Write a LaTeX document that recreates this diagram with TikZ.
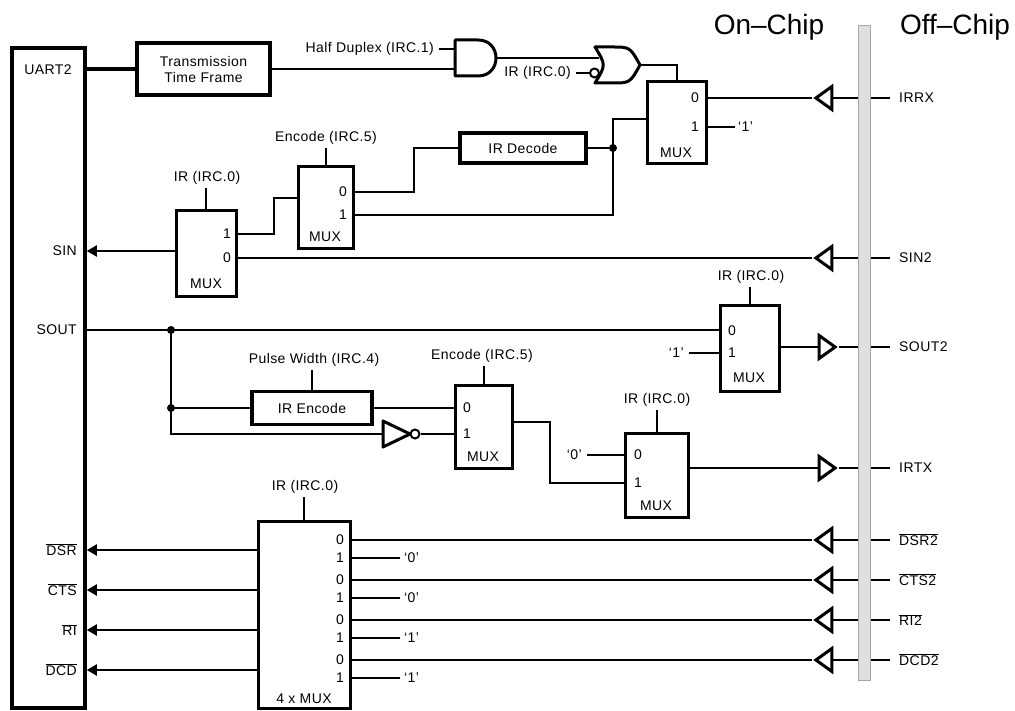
\documentclass[tikz,border=0pt]{standalone}
\usepackage{fontspec}
\setmainfont{Liberation Sans}[LetterSpace=3]
\newfontfamily\chipfont{Liberation Sans}
\usetikzlibrary{arrows.meta,shapes.geometric}

\begin{document}
\begin{tikzpicture}[x=1pt,y=-1pt,
  font=\fontsize{14}{16}\selectfont,
  wire/.style={line width=2pt},
  blk/.style={draw, rectangle, line width=3pt, inner sep=0pt},
  lbl/.style={inner sep=3pt},
  pinl/.style={anchor=west, inner sep=1pt},
  pinr/.style={anchor=east, inner sep=1pt},
  arr/.style={wire, -{Triangle[length=10pt,width=11pt]}},
  dot/.style={circle, fill, inner sep=0pt, minimum size=8pt},
  inv/.style={circle, draw, line width=2pt, inner sep=0pt, minimum size=9pt},
  gate/.style={line width=3pt, line join=round},
  buf/.style={draw, line width=3pt, isosceles triangle, isosceles triangle stretches,
    inner sep=0pt, minimum width=23pt, minimum height=16pt},
  padlbl/.style={anchor=west, inner sep=0pt, inner xsep=9pt}]
\useasboundingbox (0,0) rectangle (1015,711);

% Define the nodes
\node[blk, line width=3.5pt, minimum width=73pt, minimum height=660pt] at (48.5,378) (uart) {};
\node[lbl] at (48,70) (uartlabel) {UART2};
\node[lbl, anchor=east] at (80,251) (sin) {SIN};
\node[lbl, anchor=east] at (80,330) (sout) {SOUT};
\node[blk, line width=3.5pt, minimum width=133pt, minimum height=52pt, align=center] at (203.5,69) (ttf) {Transmission\\Time Frame};
\node[font=\chipfont\fontsize{28}{30}\selectfont, anchor=base] at (769,35) (onchip) {On\textendash Chip};
\node[font=\chipfont\fontsize{28}{30}\selectfont, anchor=base] at (955,35) (offchip) {Off\textendash Chip};

% gates
\draw[gate] (455,40) -- (478,40) .. controls (502,40) and (502,76) .. (478,76) -- (455,76) -- cycle;
\coordinate (and1) at (455,49);
\coordinate (and2) at (455,69);
\coordinate (andout) at (496,58);
\draw[gate] (595,47) .. controls (606,65) .. (595,83) -- (612,83) .. controls (630,83) .. (640,65) .. controls (630,47) .. (612,47) -- cycle;
\coordinate (or1) at (599,58);
\coordinate (orout) at (640,65);
\node[inv] at (594.5,73) (orinv) {};
\draw[gate] (383,421) -- (410,434) -- (383,447) -- cycle;
\coordinate (notin) at (383,434);
\node[inv] at (415,434) (notinv) {};

\node[anchor=east, inner sep=0pt] at (434,49) (hdx) {Half Duplex (IRC.1)};
\node[anchor=east, inner sep=0pt] at (571,73) (irA) {IR (IRC.0)};

% receive path
\node[blk, minimum width=59pt, minimum height=82pt] at (676.5,123) (mux1) {};
\node[pinr] at (700,98) (m1a) {0};
\node[pinr] at (700,127) (m1b) {1};
\node at (676,153) (m1c) {MUX};
\node[anchor=west, inner sep=0pt] at (738,127) (one1) {`1'};
\node[blk, line width=3.5pt, minimum width=126pt, minimum height=30pt] at (523,148) (irdec) {IR Decode};
\node[dot] at (613,148) (j1) {};
\node[blk, minimum width=55pt, minimum height=82pt] at (325.5,208) (mux2) {};
\node[pinr] at (348,192) (m2a) {0};
\node[pinr] at (348,215) (m2b) {1};
\node at (325,237) (m2c) {MUX};
\node[lbl] at (326,138) (enc1) {Encode (IRC.5)};
\node[blk, minimum width=60pt, minimum height=86pt] at (206,254) (mux3) {};
\node[pinr] at (232,234) (m3a) {1};
\node[pinr] at (232,258) (m3b) {0};
\node at (206,284) (m3c) {MUX};
\node[lbl] at (207,178) (irB) {IR (IRC.0)};

% transmit path
\node[blk, minimum width=59pt, minimum height=85pt] at (749.5,348.5) (mux4) {};
\node[pinl] at (727,331) (m4a) {0};
\node[pinl] at (727,353) (m4b) {1};
\node at (749,378) (m4c) {MUX};
\node[lbl] at (751,277) (irC) {IR (IRC.0)};
\node[anchor=east, inner sep=0pt] at (684,353) (one4) {`1'};
\node[dot] at (171,330) (j2) {};
\node[dot] at (171,408) (j3) {};
\node[blk, line width=3.5pt, minimum width=120pt, minimum height=33pt] at (312,408) (irenc) {IR Encode};
\node[lbl] at (314,360) (pw) {Pulse Width (IRC.4)};
\node[blk, minimum width=57pt, minimum height=83pt] at (483.5,426.5) (mux5) {};
\node[pinl] at (462,408) (m5a) {0};
\node[pinl] at (462,434) (m5b) {1};
\node at (483,457) (m5c) {MUX};
\node[lbl] at (482,356) (enc2) {Encode (IRC.5)};
\node[blk, minimum width=63pt, minimum height=84pt] at (656.5,475) (mux6) {};
\node[pinl] at (633,455) (m6a) {0};
\node[pinl] at (633,483) (m6b) {1};
\node at (656,506) (m6c) {MUX};
\node[lbl] at (657,400) (irD) {IR (IRC.0)};
\node[anchor=east, inner sep=0pt] at (582,455) (zero6) {`0'};

% pads
\node[buf, shape border rotate=180] at (826,98) (birrx) {};
\node[padlbl] at (890,98) (irrx) {IRRX};
\node[buf, shape border rotate=180] at (826,258) (bsin) {};
\node[padlbl] at (890,258) (sin2) {SIN2};
\node[buf] at (825,347) (bsout) {};
\node[padlbl] at (890,347) (sout2) {SOUT2};
\node[buf] at (825,468) (birtx) {};
\node[padlbl] at (890,468) (irtx) {IRTX};

% modem lines
\node[blk, minimum width=92pt, minimum height=187pt] at (304,614.5) (mux4x) {};
\node at (304,699) (mux4xlabel) {4 x MUX};
\node[lbl] at (305,487) (irE) {IR (IRC.0)};
\draw[wire] (mux4x.north) -- (mux4x.north |- irE.south);
\foreach \y/\sig/\val [count=\i] in {540/DSR/`0', 580/CTS/`0', 620/RI/`1', 660/DCD/`1'} {
  \node[pinr] at (345,\y) (p0\i) {0};
  \node[pinr] at (345,\y+18) (p1\i) {1};
  \node[anchor=west, inner sep=0pt] at (404,\y+18) (v\i) {\val};
  \node[buf, shape border rotate=180] at (826,\y) (bm\i) {};
  \node[padlbl] at (890,\y) (pm\i) {$\overline{\hbox{\sig2}}$};
  \node[lbl, anchor=east] at (80,\y+10) (u\i) {$\overline{\hbox{\sig}}$};
  \draw[wire] (bm\i.apex) -- (p0\i -| mux4x.east);
  \draw[wire] (bm\i.east) -- (pm\i.west);
  \draw[wire] (p1\i -| mux4x.east) -- ([xshift=-4pt]v\i.west);
  \draw[arr] (mux4x.west |- u\i) -- (u\i -| uart.east);
}

% Draw the paths
\draw[line width=3.5pt] (uart.east |- ttf) -- (ttf.west);
\draw[wire] ([xshift=5pt]hdx.east) -- (and1);
\draw[wire] (ttf.east) -- (and2);
\draw[wire] (andout) -- (or1);
\draw[wire] ([xshift=5pt]irA.east) -- (orinv.west);
\draw[wire] (orout) -| (mux1.north);
\draw[wire] (birrx.apex) -- (m1a -| mux1.east);
\draw[wire] (birrx.east) -- (irrx.west);
\draw[wire] (m1b -| mux1.east) -- ([xshift=-3pt]one1.west);
\draw[wire] (mux1.west |- 0,119) -| (j1.center) |- (m2b -| mux2.east);
\draw[wire] (irdec.east) -- (j1);
\draw[wire] (irdec.west) -- ++(-44,0) |- (m2a -| mux2.east);
\draw[wire] (mux2.north) -- (mux2.north |- enc1.south);
\draw[wire] (mux2.west |- 0,198) -- ++(-23,0) |- (m3a -| mux3.east);
\draw[wire] (mux3.north) -- (mux3.north |- irB.south);
\draw[arr] (mux3.west |- sin) -- (sin -| uart.east);
\draw[wire] (bsin.apex) -- (m3b -| mux3.east);
\draw[wire] (bsin.east) -- (sin2.west);

\draw[wire] (sout -| uart.east) -- (sout -| mux4.west);
\draw[wire] (mux4.north) -- (mux4.north |- irC.south);
\draw[wire] ([xshift=5pt]one4.east) -- (m4b -| mux4.west);
\draw[wire] (mux4.east |- bsout) -- (bsout.west);
\draw[wire] (bsout.apex) -- (sout2.west);
\draw[wire] (j2.center) |- (notin);
\draw[wire] (j3) -- (irenc.west);
\draw[wire] (irenc.north) -- (irenc.north |- pw.south);
\draw[wire] (irenc.east) -- (irenc.east -| mux5.west);
\draw[wire] (notinv.east) -- (m5b -| mux5.west);
\draw[wire] (mux5.north) -- (mux5.north |- enc2.south);
\draw[wire] (mux5.east |- 0,422) -- ++(36,0) |- (m6b -| mux6.west);
\draw[wire] (mux6.north) -- (mux6.north |- irD.south);
\draw[wire] ([xshift=5pt]zero6.east) -- (m6a -| mux6.west);
\draw[wire] (mux6.east |- birtx) -- (birtx.west);
\draw[wire] (birtx.apex) -- (irtx.west);

% chip boundary
\filldraw[fill=gray!25, draw=gray!70, line width=0.6pt] (858,25) rectangle (870,680);
\end{tikzpicture}
\end{document}
